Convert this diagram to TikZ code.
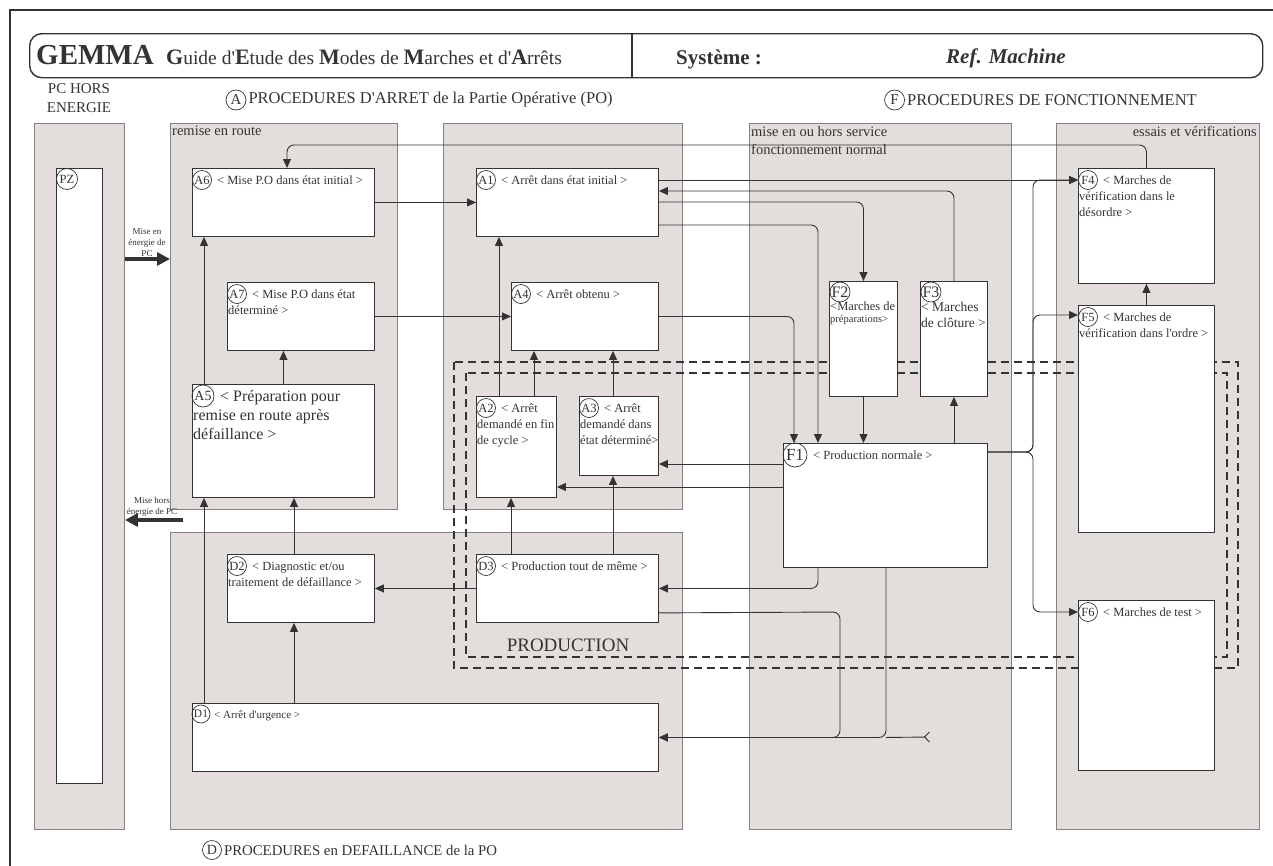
\documentclass[tikz,border=0pt]{standalone}
\usepackage{fontspec}
\setmainfont{Liberation Serif}
\usetikzlibrary{arrows.meta}

\definecolor{encre}{HTML}{333333}
\definecolor{fond}{HTML}{E3DEDC}
\definecolor{bord}{HTML}{858181}

\newcommand{\ini}[1]{{\fontsize{22}{22}\selectfont\bfseries #1}}

\begin{document}
\begin{tikzpicture}[x=1pt, y=-1pt]
  % Style definitions
  \tikzstyle{zone} = [draw=bord, fill=fond, line width=0.9pt, anchor=north west, inner sep=0pt]
  \tikzstyle{etat} = [draw=encre, fill=white, line width=0.9pt, anchor=north west, inner sep=0pt]
  \tikzstyle{repere} = [circle, draw=encre, line width=0.7pt, inner sep=0pt, minimum size=19pt, text=encre, font=\fontsize{12.5}{13}\selectfont]
  \tikzstyle{texte} = [anchor=north west, inner sep=0pt, align=left, text=encre, font=\fontsize{12.5}{16}\selectfont]
  \tikzstyle{titre} = [text=encre, inner sep=0pt, font=\fontsize{14.5}{18}\selectfont]
  \tikzstyle{lien} = [draw=encre, line width=0.9pt, -{Triangle[length=9pt,width=8pt]}, rounded corners=7pt]
  \tikzstyle{gros} = [draw=encre, line width=3.2pt, -{Triangle[length=13pt,width=13pt]}]
  \tikzstyle{tirets} = [draw=encre, line width=1.5pt, dash pattern=on 8pt off 5pt]

  \useasboundingbox (0,0) rectangle (1273,865);

  % Frame and title
  \draw[encre, line width=2pt] (10,870) -- (10,10) -- (1280,10);
  \node[draw=encre, line width=1.4pt, rounded corners=12pt, anchor=north west, inner sep=0pt, minimum width=1233, minimum height=44] (entete) at (29,33) {};
  \coordinate (sep) at (632,55);
  \draw[encre, line width=1.4pt] (entete.north -| sep) -- (entete.south -| sep);
  \node[anchor=base west, inner sep=0pt, text=encre, font=\fontsize{29}{29}\selectfont\bfseries] (gemma) at (36,64) {GEMMA};
  \node[anchor=base west, inner sep=0pt, text=encre, font=\fontsize{19.5}{20}\selectfont] (guide) at (166,64) {\ini{G}uide d\textquotesingle\ini{E}tude des \ini{M}odes de \ini{M}arches et d\textquotesingle\ini{A}rrêts};
  \node[anchor=base west, inner sep=0pt, text=encre, font=\fontsize{21}{21}\selectfont\bfseries] (systeme) at (676,64) {Système :};
  \node[anchor=base west, inner sep=0pt, text=encre, font=\fontsize{21}{21}\selectfont\bfseries\itshape] (machine) at (946,63) {Ref. Machine};

  \node[titre, align=center, font=\fontsize{15}{19}\selectfont] (pchors) at (79,98) {PC HORS\\ENERGIE};
  \node[repere, font=\fontsize{15}{15}\selectfont, minimum size=20pt] (cA) at (236,100) {A};
  \node[titre, anchor=west, font=\fontsize{16.5}{18}\selectfont] (tA) at ([xshift=2]cA.east) {PROCEDURES D\textquotesingle ARRET de la Partie Opérative (PO)};
  \node[titre, anchor=east, font=\fontsize{16.5}{18}\selectfont] (tF) at (1197,100) {PROCEDURES DE FONCTIONNEMENT};
  \node[repere, font=\fontsize{15}{15}\selectfont, minimum size=20pt, anchor=east] (cF) at ([xshift=-2]tF.west) {F};
  \node[repere, font=\fontsize{14}{14}\selectfont] (cD) at (212,850) {D};
  \node[titre, anchor=west, font=\fontsize{14.8}{18}\selectfont] (tD) at ([xshift=2]cD.east) {PROCEDURES en DEFAILLANCE de la PO};

  % Zones
  \node[zone, minimum width=90, minimum height=706] (zPC) at (34,123) {};
  \node[zone, minimum width=227, minimum height=386] (zR) at (170,123) {};
  \node[zone, minimum width=239, minimum height=386] (zA) at (443,123) {};
  \node[zone, minimum width=512, minimum height=297] (zD) at (170,532) {};
  \node[zone, minimum width=262, minimum height=706] (zN) at (749,123) {};
  \node[zone, minimum width=203, minimum height=706] (zE) at (1056,123) {};
  \node[titre, anchor=north west] (lR) at (172,126) {remise en route};
  \node[titre, anchor=north west, align=left] (lN) at (751,126) {mise en ou hors service\\fonctionnement normal};
  \node[titre, anchor=north east] (lE) at (1257,126) {essais et vérifications};

  % Production
  \draw[tirets] (454,362) rectangle (1238,668);
  \draw[tirets] (466,373) rectangle (1227,657);
  \node[titre, font=\fontsize{19}{19}\selectfont] (prod) at (568,645) {PRODUCTION};

  % Etats
  \node[etat, minimum width=46, minimum height=615] (PZ) at (56,168) {};
  \node[repere, minimum size=21pt] (nPZ) at ([xshift=11,yshift=-11]PZ.north west) {PZ};

  \node[etat, minimum width=182, minimum height=68] (A6) at (192,168) {};
  \node[repere] (nA6) at ([xshift=10,yshift=-12]A6.north west) {A6};
  \node[texte] (tA6) at ([xshift=1,yshift=-5]A6.north west) {\strut\hspace*{24pt}< Mise P.O dans état initial >};

  \node[etat, minimum width=147, minimum height=68] (A7) at (227,282) {};
  \node[repere] (nA7) at ([xshift=10,yshift=-12]A7.north west) {A7};
  \node[texte] (tA7) at ([xshift=1,yshift=-5]A7.north west) {\strut\hspace*{24pt}< Mise P.O dans état\\déterminé >};

  \node[etat, minimum width=182, minimum height=113] (A5) at (192,384) {};
  \node[repere, minimum size=22pt, font=\fontsize{14}{14}\selectfont] (nA5) at ([xshift=11,yshift=-12]A5.north west) {A5};
  \node[texte, font=\fontsize{16}{19}\selectfont] (tA5) at ([xshift=1,yshift=-4]A5.north west) {\strut\hspace*{27pt}< Préparation pour\\remise en route après\\défaillance >};

  \node[etat, minimum width=147, minimum height=68] (D2) at (227,554) {};
  \node[repere] (nD2) at ([xshift=10,yshift=-12]D2.north west) {D2};
  \node[texte] (tD2) at ([xshift=1,yshift=-5]D2.north west) {\strut\hspace*{24pt}< Diagnostic et/ou\\traitement de défaillance >};

  \node[etat, minimum width=466, minimum height=68] (D1) at (192,703) {};
  \node[repere, minimum size=18pt, font=\fontsize{11.5}{12}\selectfont] (nD1) at ([xshift=9,yshift=-11]D1.north west) {D1};
  \node[texte, font=\fontsize{11}{14}\selectfont] (tD1) at ([xshift=1,yshift=-5]D1.north west) {\strut\hspace*{21pt}< Arrêt d\textquotesingle urgence >};

  \node[etat, minimum width=182, minimum height=68] (A1) at (476,168) {};
  \node[repere] (nA1) at ([xshift=10,yshift=-12]A1.north west) {A1};
  \node[texte] (tA1) at ([xshift=1,yshift=-5]A1.north west) {\strut\hspace*{24pt}< Arrêt dans état initial >};

  \node[etat, minimum width=147, minimum height=68] (A4) at (511,282) {};
  \node[repere] (nA4) at ([xshift=10,yshift=-12]A4.north west) {A4};
  \node[texte] (tA4) at ([xshift=1,yshift=-5]A4.north west) {\strut\hspace*{24pt}< Arrêt obtenu >};

  \node[etat, minimum width=80, minimum height=101] (A2) at (476,396) {};
  \node[repere] (nA2) at ([xshift=10,yshift=-12]A2.north west) {A2};
  \node[texte] (tA2) at ([xshift=1,yshift=-5]A2.north west) {\strut\hspace*{24pt}< Arrêt\\demandé en fin\\de cycle >};

  \node[etat, minimum width=79, minimum height=79] (A3) at (579,396) {};
  \node[repere] (nA3) at ([xshift=10,yshift=-12]A3.north west) {A3};
  \node[texte] (tA3) at ([xshift=1,yshift=-5]A3.north west) {\strut\hspace*{24pt}< Arrêt\\demandé dans\\état déterminé>};

  \node[etat, minimum width=182, minimum height=68] (D3) at (476,554) {};
  \node[repere] (nD3) at ([xshift=10,yshift=-12]D3.north west) {D3};
  \node[texte] (tD3) at ([xshift=1,yshift=-5]D3.north west) {\strut\hspace*{24pt}< Production tout de même >};

  \node[etat, minimum width=68, minimum height=115] (F2) at (829,281) {};
  \node[repere, minimum size=20pt, font=\fontsize{16}{16}\selectfont] (nF2) at ([xshift=11,yshift=-11]F2.north west) {F2};
  \node[texte, font=\fontsize{12.5}{12}\selectfont] (tF2) at ([xshift=1,yshift=-21]F2.north west) {\strut<Marches de\\{\fontsize{10.5}{12}\selectfont préparations>}};

  \node[etat, minimum width=67, minimum height=115] (F3) at (920,281) {};
  \node[repere, minimum size=20pt, font=\fontsize{16}{16}\selectfont] (nF3) at ([xshift=11,yshift=-11]F3.north west) {F3};
  \node[texte, font=\fontsize{13.5}{16}\selectfont] (tF3) at ([xshift=1,yshift=-19]F3.north west) {\strut< Marches\\de clôture >};

  \node[etat, minimum width=204, minimum height=124] (F1) at (783,443) {};
  \node[repere, minimum size=24pt, font=\fontsize{17}{17}\selectfont] (nF1) at ([xshift=12,yshift=-12]F1.north west) {F1};
  \node[texte] (tF1) at ([xshift=1,yshift=-5]F1.north west) {\strut\hspace*{29pt}< Production normale >};

  \node[etat, minimum width=136, minimum height=115] (F4) at (1078,168) {};
  \node[repere] (nF4) at ([xshift=10,yshift=-12]F4.north west) {F4};
  \node[texte] (tF4) at ([xshift=1,yshift=-5]F4.north west) {\strut\hspace*{24pt}< Marches de\\vérification dans le\\désordre >};

  \node[etat, minimum width=136, minimum height=227] (F5) at (1078,305) {};
  \node[repere] (nF5) at ([xshift=10,yshift=-12]F5.north west) {F5};
  \node[texte] (tF5) at ([xshift=1,yshift=-5]F5.north west) {\strut\hspace*{24pt}< Marches de\\vérification dans l\textquotesingle ordre >};

  \node[etat, minimum width=136, minimum height=170] (F6) at (1078,600) {};
  \node[repere] (nF6) at ([xshift=10,yshift=-12]F6.north west) {F6};
  \node[texte] (tF6) at ([xshift=1,yshift=-5]F6.north west) {\strut\hspace*{24pt}< Marches de test >};

  % Mise en / hors energie
  \node[text=encre, inner sep=0pt, align=center, font=\fontsize{9}{11}\selectfont] (lme) at (147,243) {Mise en\\énergie de\\PC};
  \node[text=encre, inner sep=0pt, align=center, font=\fontsize{9}{11}\selectfont] (lmh) at (152,507) {Mise hors\\énergie de PC};
  \coordinate (mh) at (183,520);
  \draw[gros] ([yshift=-136]zPC.north east) -- ([yshift=-136]zR.north west);
  \draw[gros] (mh) -- (mh -| zPC.east);

  % Liaisons A / D
  \draw[lien] (A6.east) -- (A1.west);
  \draw[lien] (A7.east) -- (A4.west);
  \draw[lien] ([xshift=12]A5.north west) -- ([xshift=12]A6.south west);
  \draw[lien] (A5.north) -- (A5.north |- A7.south);
  \draw[lien] ([xshift=12]D1.north west) -- ([xshift=12]A5.south west);
  \draw[lien] ([xshift=67]D2.north west) -- ([xshift=102]A5.south west);
  \draw[lien] ([xshift=102]D1.north west) -- ([xshift=67]D2.south west);
  \draw[lien] (D3.west) -- (D2.east);
  \draw[lien] ([xshift=35]D3.north west) -- ([xshift=35]A2.south west);
  \draw[lien] ([xshift=137]D3.north west) -- ([xshift=34]A3.south west);
  \draw[lien] ([xshift=23]A2.north west) -- ([xshift=23]A1.south west);
  \draw[lien] ([xshift=58]A2.north west) -- ([xshift=23]A4.south west);
  \draw[lien] ([xshift=34]A3.north west) -- ([xshift=102]A4.south west);

  % Liaisons F
  \coordinate (jonc) at (1033,452);
  \coordinate (coude) at (840,612);
  \coordinate (retour) at (287,145);
  \coordinate (fin) at (930,737);
  \draw[lien] ([yshift=-21]F1.north west) -- ([yshift=-21]F1.north west -| A3.east);
  \draw[lien] ([yshift=-44]F1.north west) -- ([yshift=-44]F1.north west -| A2.east);
  \draw[lien] ([xshift=35]F1.south west) |- (D3.east);
  \draw[lien] ([yshift=10]D3.south east) -- (coude) |- (D1.east);
  \draw[lien] ([xshift=103]F1.south west) |- (D1.east);
  \draw[draw=encre, line width=0.9pt, {Straight Barb[reversed,length=5pt,width=10pt]}-] (fin) -- ([xshift=103]F1.south west |- D1.east);
  \draw[lien] ([yshift=-9]F1.north east) -- (jonc) |- ([yshift=-12]F4.north west);
  \draw[lien] ([yshift=-9]F1.north east) -- (jonc) |- ([yshift=-10]F5.north west);
  \draw[lien] ([yshift=-9]F1.north east) -- (jonc) |- ([yshift=-12]F6.north west);
  \draw[lien] ([yshift=-12]A1.north east) -- ([yshift=-12]F4.north west);
  \draw[lien] (F3.north) |- ([yshift=-23]A1.north east);
  \draw[lien] ([yshift=-34]A1.north east) -| (F2.north);
  \draw[lien] ([yshift=-57]A1.north east) -| ([xshift=35]F1.north west);
  \draw[lien] (A4.east) -| ([xshift=11]F1.north west);
  \draw[lien] (F2.south) -- (F2.south |- F1.north);
  \draw[lien] (F3.south |- F1.north) -- (F3.south);
  \draw[lien] (F5.north) -- (F4.south);
  \draw[lien] (F4.north) |- (retour) -- ([xshift=95]A6.north west);
\end{tikzpicture}
\end{document}
